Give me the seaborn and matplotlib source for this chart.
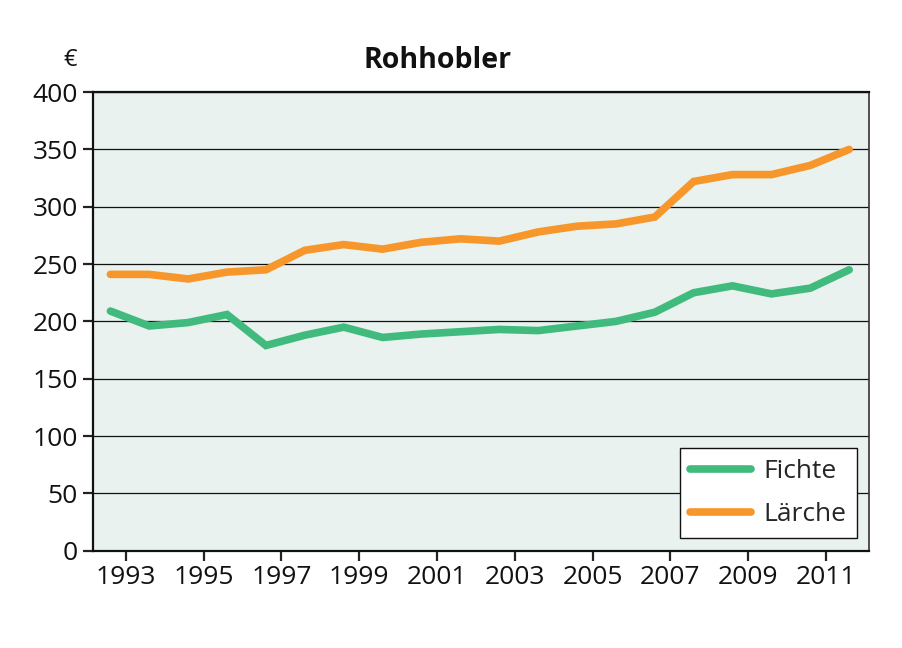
import matplotlib
matplotlib.use("Agg")
import matplotlib.pyplot as plt
import seaborn as sns
import numpy as np
import pandas as pd

years = list(range(1992, 2012))
fichte = [209, 196, 199, 206, 179, 188, 195, 186, 189, 191, 193, 192, 196, 200, 208, 225, 231, 224, 229, 245]
laerche = [241, 241, 237, 243, 245, 262, 267, 263, 269, 272, 270, 278, 283, 285, 291, 322, 328, 328, 336, 350]
tick_years = list(range(1993, 2012, 2))
y_ticks = [0, 50, 100, 150, 200, 250, 300, 350, 400]
title = "Rohhobler"
unit = "€"

offset = 0.6  # points drawn slightly right of year ticks, as in reference

df = pd.DataFrame({
    "x": [y + offset for y in years] * 2,
    "wert": fichte + laerche,
    "Sorte": ["Fichte"] * len(years) + ["Lärche"] * len(years),
})

sns.set_theme(style="white")
plt.rcParams["font.family"] = ["Open Sans", "DejaVu Sans"]

fig = plt.figure(figsize=(9.02, 6.48), dpi=100)
ax = fig.add_axes([0.103, 0.150, 0.860, 0.708])
ax.set_facecolor("#e9f2ee")

palette = {"Fichte": "#40ba7d", "Lärche": "#f7962a"}
sns.lineplot(data=df, x="x", y="wert", hue="Sorte", palette=palette,
             linewidth=5.5, ax=ax, legend=True)
for ln in ax.lines:
    ln.set_solid_capstyle("round")
    ln.set_solid_joinstyle("miter")

ax.set_xlim(1992.15, 2012.1)
ax.set_ylim(0, 400)
ax.set_yticks(y_ticks)
ax.set_xticks(tick_years)
ax.set_xticklabels([str(t) for t in tick_years])
ax.yaxis.grid(True, color="#111111", linewidth=0.9)
ax.xaxis.grid(False)
ax.set_axisbelow(True)
ax.set_xlabel("")
ax.set_ylabel("")

for s in ["left", "bottom", "top"]:
    ax.spines[s].set_color("#111111")
    ax.spines[s].set_linewidth(1.6)
ax.spines["right"].set_color("#333333")
ax.spines["right"].set_linewidth(1.2)

ax.tick_params(axis="both", which="both", direction="out", length=7, width=1.6,
               color="#222222", labelsize=19, labelcolor="#111111")
ax.tick_params(axis="x", pad=3)
ax.tick_params(axis="y", pad=4, left=True)
ax.tick_params(axis="x", bottom=True)

leg = ax.legend(loc="lower right", fontsize=19, frameon=True, fancybox=False,
                edgecolor="#111111", facecolor="white", framealpha=1,
                handlelength=2.3, borderpad=0.4, labelspacing=0.7,
                handletextpad=0.45, borderaxespad=0,
                bbox_to_anchor=(0.9845, 0.028))
leg.get_frame().set_linewidth(1.0)
for h in leg.get_lines():
    h.set_linewidth(5.5)
    h.set_solid_capstyle("round")

fig.text(0.485, 0.907, title, ha="center", va="center", fontsize=20.5,
         fontweight="bold", color="#111111")
fig.text(0.078, 0.907, unit, ha="center", va="center", fontsize=17, color="#111111")

fig.savefig("out.png", dpi=100, facecolor="white")
